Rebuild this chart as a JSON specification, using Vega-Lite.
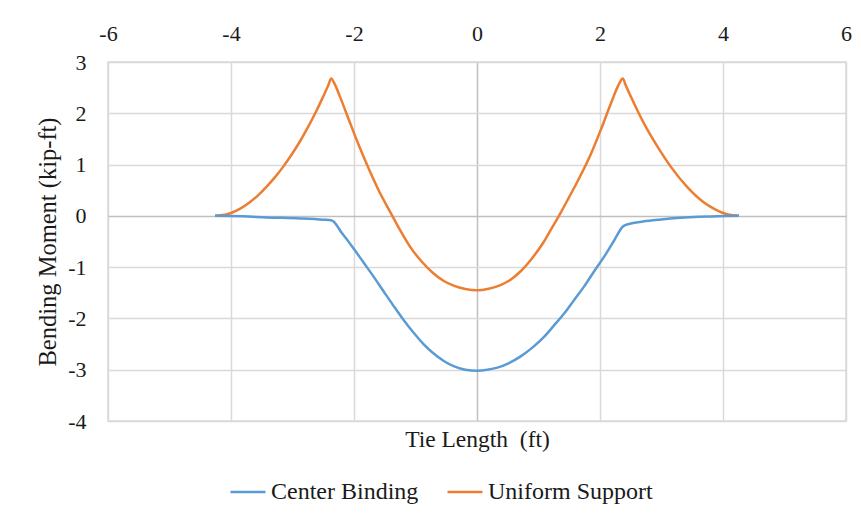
{
  "$schema": "https://vega.github.io/schema/vega-lite/v6.json",
  "autosize": {"type": "none"},
  "padding": {"left": 108, "top": 62, "right": 16, "bottom": 95},
  "width": 738,
  "height": 359,
  "background": "white",
  "config": {
    "font": "Liberation Serif, serif",
    "view": {"stroke": "#d9d9d9", "strokeWidth": 1.5},
    "axis": {
      "domain": false,
      "ticks": false,
      "gridColor": {"condition": {"test": "datum.value === 0", "value": "#bfbfbf"}, "value": "#d9d9d9"},
      "gridWidth": 1.5,
      "labelFont": "Liberation Serif, serif",
      "labelFontSize": 22,
      "labelColor": "#1a1a1a",
      "labelFlush": false,
      "labelOverlap": false,
      "labelExpr": "'' + datum.value",
      "titleFont": "Liberation Serif, serif",
      "titleFontWeight": "normal",
      "titleColor": "#1a1a1a"
    }
  },
  "data": {
    "values": [
      {"x": -4.26, "moment": 0.0, "series": "Uniform Support"},
      {"x": -4.1, "moment": 0.02, "series": "Uniform Support"},
      {"x": -3.99, "moment": 0.06, "series": "Uniform Support"},
      {"x": -3.85, "moment": 0.14, "series": "Uniform Support"},
      {"x": -3.7, "moment": 0.26, "series": "Uniform Support"},
      {"x": -3.56, "moment": 0.4, "series": "Uniform Support"},
      {"x": -3.42, "moment": 0.57, "series": "Uniform Support"},
      {"x": -3.28, "moment": 0.76, "series": "Uniform Support"},
      {"x": -3.15, "moment": 0.96, "series": "Uniform Support"},
      {"x": -3.0, "moment": 1.22, "series": "Uniform Support"},
      {"x": -2.88, "moment": 1.45, "series": "Uniform Support"},
      {"x": -2.74, "moment": 1.75, "series": "Uniform Support"},
      {"x": -2.61, "moment": 2.05, "series": "Uniform Support"},
      {"x": -2.5, "moment": 2.33, "series": "Uniform Support"},
      {"x": -2.42, "moment": 2.54, "series": "Uniform Support"},
      {"x": -2.37, "moment": 2.68, "series": "Uniform Support"},
      {"x": -2.33, "moment": 2.61, "series": "Uniform Support"},
      {"x": -2.23, "moment": 2.33, "series": "Uniform Support"},
      {"x": -2.07, "moment": 1.83, "series": "Uniform Support"},
      {"x": -1.93, "moment": 1.4, "series": "Uniform Support"},
      {"x": -1.79, "moment": 1.0, "series": "Uniform Support"},
      {"x": -1.6, "moment": 0.5, "series": "Uniform Support"},
      {"x": -1.39, "moment": 0.03, "series": "Uniform Support"},
      {"x": -1.25, "moment": -0.28, "series": "Uniform Support"},
      {"x": -1.09, "moment": -0.6, "series": "Uniform Support"},
      {"x": -0.9, "moment": -0.89, "series": "Uniform Support"},
      {"x": -0.71, "moment": -1.12, "series": "Uniform Support"},
      {"x": -0.54, "moment": -1.27, "series": "Uniform Support"},
      {"x": -0.38, "moment": -1.36, "series": "Uniform Support"},
      {"x": -0.19, "moment": -1.425, "series": "Uniform Support"},
      {"x": 0.0, "moment": -1.45, "series": "Uniform Support"},
      {"x": 0.19, "moment": -1.42, "series": "Uniform Support"},
      {"x": 0.38, "moment": -1.35, "series": "Uniform Support"},
      {"x": 0.54, "moment": -1.25, "series": "Uniform Support"},
      {"x": 0.71, "moment": -1.08, "series": "Uniform Support"},
      {"x": 0.9, "moment": -0.82, "series": "Uniform Support"},
      {"x": 1.09, "moment": -0.5, "series": "Uniform Support"},
      {"x": 1.22, "moment": -0.23, "series": "Uniform Support"},
      {"x": 1.36, "moment": 0.06, "series": "Uniform Support"},
      {"x": 1.5, "moment": 0.37, "series": "Uniform Support"},
      {"x": 1.63, "moment": 0.66, "series": "Uniform Support"},
      {"x": 1.85, "moment": 1.2, "series": "Uniform Support"},
      {"x": 2.02, "moment": 1.7, "series": "Uniform Support"},
      {"x": 2.18, "moment": 2.2, "series": "Uniform Support"},
      {"x": 2.3, "moment": 2.55, "series": "Uniform Support"},
      {"x": 2.37, "moment": 2.68, "series": "Uniform Support"},
      {"x": 2.42, "moment": 2.54, "series": "Uniform Support"},
      {"x": 2.5, "moment": 2.33, "series": "Uniform Support"},
      {"x": 2.61, "moment": 2.05, "series": "Uniform Support"},
      {"x": 2.77, "moment": 1.68, "series": "Uniform Support"},
      {"x": 2.93, "moment": 1.36, "series": "Uniform Support"},
      {"x": 3.15, "moment": 0.96, "series": "Uniform Support"},
      {"x": 3.42, "moment": 0.56, "series": "Uniform Support"},
      {"x": 3.69, "moment": 0.26, "series": "Uniform Support"},
      {"x": 3.85, "moment": 0.14, "series": "Uniform Support"},
      {"x": 3.97, "moment": 0.07, "series": "Uniform Support"},
      {"x": 4.1, "moment": 0.02, "series": "Uniform Support"},
      {"x": 4.26, "moment": 0.0, "series": "Uniform Support"},

      {"x": -4.26, "moment": 0.0, "series": "Center Binding"},
      {"x": -3.8, "moment": -0.01, "series": "Center Binding"},
      {"x": -3.42, "moment": -0.03, "series": "Center Binding"},
      {"x": -2.88, "moment": -0.05, "series": "Center Binding"},
      {"x": -2.5, "moment": -0.075, "series": "Center Binding"},
      {"x": -2.36, "moment": -0.09, "series": "Center Binding"},
      {"x": -2.2, "moment": -0.33, "series": "Center Binding"},
      {"x": -2.01, "moment": -0.63, "series": "Center Binding"},
      {"x": -1.85, "moment": -0.9, "series": "Center Binding"},
      {"x": -1.69, "moment": -1.17, "series": "Center Binding"},
      {"x": -1.52, "moment": -1.47, "series": "Center Binding"},
      {"x": -1.36, "moment": -1.75, "series": "Center Binding"},
      {"x": -1.2, "moment": -2.02, "series": "Center Binding"},
      {"x": -1.03, "moment": -2.28, "series": "Center Binding"},
      {"x": -0.87, "moment": -2.5, "series": "Center Binding"},
      {"x": -0.71, "moment": -2.68, "series": "Center Binding"},
      {"x": -0.54, "moment": -2.83, "series": "Center Binding"},
      {"x": -0.38, "moment": -2.93, "series": "Center Binding"},
      {"x": -0.19, "moment": -3.0, "series": "Center Binding"},
      {"x": 0.0, "moment": -3.02, "series": "Center Binding"},
      {"x": 0.17, "moment": -3.0, "series": "Center Binding"},
      {"x": 0.33, "moment": -2.96, "series": "Center Binding"},
      {"x": 0.52, "moment": -2.87, "series": "Center Binding"},
      {"x": 0.71, "moment": -2.74, "series": "Center Binding"},
      {"x": 0.9, "moment": -2.57, "series": "Center Binding"},
      {"x": 1.09, "moment": -2.36, "series": "Center Binding"},
      {"x": 1.25, "moment": -2.14, "series": "Center Binding"},
      {"x": 1.42, "moment": -1.9, "series": "Center Binding"},
      {"x": 1.58, "moment": -1.64, "series": "Center Binding"},
      {"x": 1.74, "moment": -1.38, "series": "Center Binding"},
      {"x": 1.9, "moment": -1.09, "series": "Center Binding"},
      {"x": 2.07, "moment": -0.79, "series": "Center Binding"},
      {"x": 2.22, "moment": -0.5, "series": "Center Binding"},
      {"x": 2.38, "moment": -0.2, "series": "Center Binding"},
      {"x": 2.5, "moment": -0.15, "series": "Center Binding"},
      {"x": 2.7, "moment": -0.11, "series": "Center Binding"},
      {"x": 2.99, "moment": -0.07, "series": "Center Binding"},
      {"x": 3.25, "moment": -0.04, "series": "Center Binding"},
      {"x": 3.53, "moment": -0.02, "series": "Center Binding"},
      {"x": 4.02, "moment": -0.005, "series": "Center Binding"},
      {"x": 4.26, "moment": 0.0, "series": "Center Binding"}
    ]
  },
  "mark": {"type": "line", "interpolate": "monotone", "strokeWidth": 2.5},
  "encoding": {
    "x": {
      "field": "x",
      "type": "quantitative",
      "scale": {"domain": [-6, 6], "nice": false},
      "axis": {
        "orient": "top",
        "values": [-6, -4, -2, 0, 2, 4, 6],
        "labelPadding": 17,
        "title": "Tie Length\u00a0 (ft)",
        "titleFontSize": 23.5,
        "titleY": 377,
        "titleBaseline": "middle"
      }
    },
    "y": {
      "field": "moment",
      "type": "quantitative",
      "scale": {"domain": [-4, 3], "nice": false},
      "axis": {
        "values": [-4, -3, -2, -1, 0, 1, 2, 3],
        "labelPadding": 22,
        "title": "Bending Moment (kip-ft)",
        "titleFontSize": 24.5,
        "titleX": -60,
        "titleY": 179.5,
        "titleAngle": -90,
        "titleAlign": "center",
        "titleBaseline": "middle"
      }
    },
    "color": {
      "field": "series",
      "type": "nominal",
      "scale": {
        "domain": ["Center Binding", "Uniform Support"],
        "range": ["#5b9bd5", "#ed7d31"]
      },
      "legend": {
        "orient": "none",
        "legendX": 121,
        "legendY": 411,
        "direction": "horizontal",
        "title": null,
        "symbolType": "stroke",
        "symbolSize": 1225,
        "symbolStrokeWidth": 2.5,
        "labelFont": "Liberation Serif, serif",
        "labelFontSize": 24,
        "labelLimit": 400,
        "labelColor": "#1a1a1a",
        "labelOffset": 4,
        "columnPadding": 23
      }
    }
  }
}
